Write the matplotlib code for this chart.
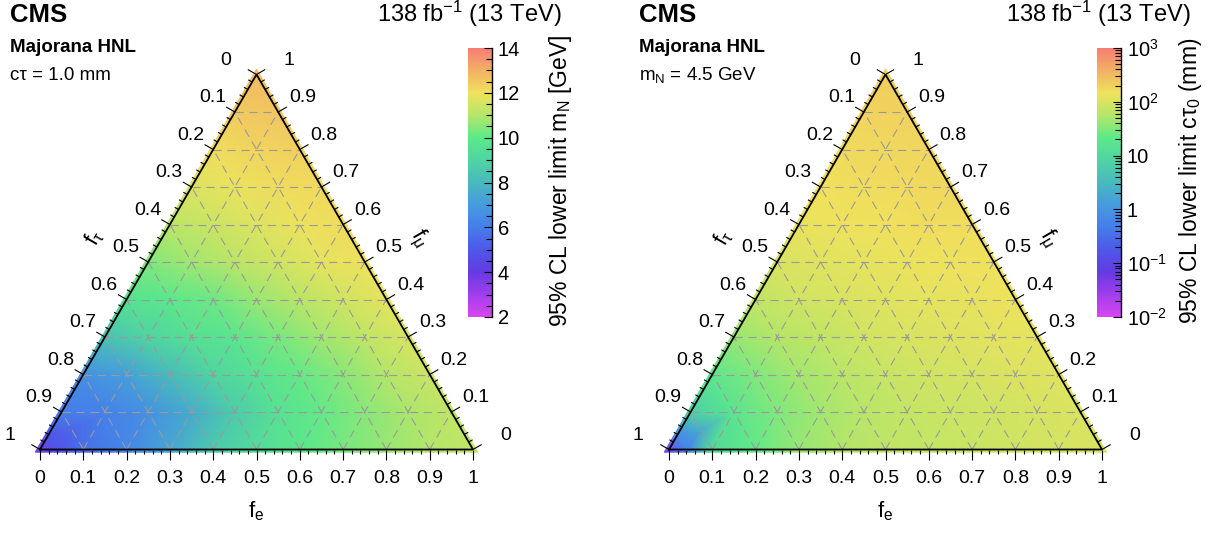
import numpy as np
import matplotlib
matplotlib.use('Agg')
import matplotlib.pyplot as plt
import matplotlib.tri as mtri
from matplotlib.colors import LinearSegmentedColormap, Normalize, LogNorm
from matplotlib.collections import LineCollection
from matplotlib.ticker import MultipleLocator, LogLocator, NullFormatter
from matplotlib.transforms import Affine2D
import matplotlib.cm as cm

plt.rcParams['font.family'] = ['Liberation Sans', 'DejaVu Sans']
plt.rcParams['mathtext.fontset'] = 'custom'
plt.rcParams['mathtext.rm'] = 'Liberation Sans'
plt.rcParams['mathtext.it'] = 'Liberation Sans:italic'
plt.rcParams['mathtext.bf'] = 'Liberation Sans:bold'

# ---------------- data ----------------
fe_grid = [0.0, 0.1, 0.2, 0.3, 0.4, 0.5, 0.6, 0.7, 0.8, 0.9, 1.0]
fmu_grid = [0.0, 0.1, 0.2, 0.3, 0.4, 0.5, 0.6, 0.7, 0.8, 0.9, 1.0]

# left: 95% CL lower limit on m_N [GeV], rows of constant f_mu, columns f_e
mN_rows = [
    [3.6, 5.6, 6.3, 7.3, 8.7, 9.4, 9.9, 10.3, 10.7, 11.0, 11.2],
    [6.0, 6.1, 6.6, 7.5, 8.7, 9.6, 10.1, 10.5, 10.9, 11.2],
    [6.6, 7.1, 8.0, 9.0, 9.6, 10.1, 10.5, 11.0, 11.4],
    [8.3, 9.0, 9.5, 9.8, 10.3, 10.8, 11.2, 11.6],
    [9.6, 9.9, 10.2, 10.7, 11.1, 11.5, 11.8],
    [10.4, 10.8, 11.1, 11.5, 11.8, 12.0],
    [11.1, 11.4, 11.7, 11.9, 12.1],
    [11.7, 11.9, 12.1, 12.2],
    [12.1, 12.3, 12.4],
    [12.5, 12.6],
    [12.8],
]
mN_corner_fe = [0.05, 0.0, 0.05]
mN_corner_fmu = [0.0, 0.05, 0.05]
mN_corner_val = [4.8, 5.0, 5.3]

# right: 95% CL lower limit on c tau_0 [mm]
ctau_rows = [
    [0.04, 10, 22, 40, 55, 65, 72, 80, 88, 95, 100],
    [6, 16, 30, 45, 60, 72, 80, 88, 95, 105],
    [18, 30, 45, 60, 75, 85, 95, 105, 115],
    [40, 55, 70, 85, 100, 110, 120, 125],
    [70, 85, 100, 115, 125, 130, 140],
    [100, 115, 125, 135, 140, 150],
    [130, 140, 150, 160, 165],
    [150, 160, 170, 175],
    [170, 180, 185],
    [190, 200],
    [220],
]
ctau_corner_fe = [0.05, 0.0, 0.05]
ctau_corner_fmu = [0.0, 0.05, 0.05]
ctau_corner_val = [0.5, 0.8, 1.5]

tick_values = [0.0, 0.1, 0.2, 0.3, 0.4, 0.5, 0.6, 0.7, 0.8, 0.9, 1.0]
tick_labels = ['0', '0.1', '0.2', '0.3', '0.4', '0.5', '0.6', '0.7', '0.8', '0.9', '1']
minor_step = 0.02

cb_left_ticks = [2, 4, 6, 8, 10, 12, 14]
cb_right_ticks = [1e-2, 1e-1, 1, 10, 1e2, 1e3]
cb_right_labels = ['$10^{-2}$', '$10^{-1}$', '1', '10', '$10^{2}$', '$10^{3}$']

# ---------------- style ----------------
W, H = 1212, 533
S = 433.0           # triangle side in pixels
X0, Y0 = 40.0, 449.5  # pixel position of the f_e = 0 corner (from top-left)
PANEL_OFF = 629
R3 = np.sqrt(3) / 2

cmap = LinearSegmentedColormap.from_list('hnl', [
    (0.0, (215/255, 70/255, 240/255)),
    (0.0833, (160/255, 62/255, 236/255)),
    (0.1667, (100/255, 58/255, 226/255)),
    (0.25, (78/255, 88/255, 232/255)),
    (0.3333, (70/255, 125/255, 235/255)),
    (0.4167, (70/255, 155/255, 222/255)),
    (0.5, (72/255, 185/255, 190/255)),
    (0.5833, (80/255, 212/255, 162/255)),
    (0.6667, (92/255, 233/255, 138/255)),
    (0.75, (180/255, 230/255, 105/255)),
    (0.8333, (240/255, 226/255, 92/255)),
    (0.9167, (242/255, 178/255, 100/255)),
    (1.0, (245/255, 125/255, 115/255)),
])

fig = plt.figure(figsize=(W / 100, H / 100), dpi=100)


def px(x, y):
    return x / W, 1 - y / H


def tern(fe, fmu):
    fe = np.asarray(fe, float)
    fmu = np.asarray(fmu, float)
    return fe + fmu / 2, fmu * R3


def flatten(rows, cfe, cfmu, cval):
    fe, fmu, v = [], [], []
    for i, row in enumerate(rows):
        for j, val in enumerate(row):
            fe.append(fe_grid[j]); fmu.append(fmu_grid[i]); v.append(val)
    return np.array(fe + cfe), np.array(fmu + cfmu), np.array(v + cval, float)


def draw_panel(off, rows, cfe, cfmu, cval, norm):
    pw = min(600, W - off)
    ax = fig.add_axes([off / W, 0, pw / W, 1])
    ax.set_xlim(-X0 / S, (pw - X0) / S)
    ax.set_ylim((Y0 - H) / S, Y0 / S)
    ax.axis('off')

    fe, fmu, v = flatten(rows, cfe, cfmu, cval)
    x, y = tern(fe, fmu)
    tri = mtri.Triangulation(x, y)
    cx, cy = 0.5, R3 / 3
    sc = 1.022
    tr = Affine2D().translate(-cx, -cy).scale(sc).translate(cx, cy) + ax.transData
    tpc = ax.tripcolor(tri, v, shading='gouraud', cmap=cmap, norm=norm, zorder=1)
    tpc.set_transform(tr)

    # dashed grid
    segs = []
    for k in tick_values[1:-1]:
        segs.append(np.column_stack(tern([0, 1 - k], [k, k])))          # const f_mu
        segs.append(np.column_stack(tern([k, k], [0, 1 - k])))          # const f_e
        segs.append(np.column_stack(tern([1 - k, 0], [0, 1 - k])))      # const f_tau
    ax.add_collection(LineCollection(segs, colors='#9a9a9a', linewidths=0.8,
                                     linestyles=[(0, (7.5, 5.0))], zorder=2))

    # triangle frame
    tx, ty = tern([0, 1, 0, 0], [0, 0, 1, 0])
    ax.plot(tx, ty, color='black', lw=1.3, zorder=4, solid_joinstyle='miter')

    # ticks
    tsegs = []
    n_minor = int(round(1 / minor_step))
    d_bot = np.array([0, -1.0])
    d_left = np.array([-R3, 0.5])
    d_right = np.array([R3, 0.5])
    for i in range(n_minor + 1):
        t = i * minor_step
        major = (i % 5 == 0)
        L = (10.0 if major else 4.5) / S
        p = np.array(tern(t, 0))
        tsegs.append([p, p + d_bot * L])
        p = np.array(tern(0, 1 - t))
        tsegs.append([p, p + d_left * L])
        p = np.array(tern(1 - t, t))
        tsegs.append([p, p + d_right * L])
    ax.add_collection(LineCollection(tsegs, colors='black', linewidths=0.8, zorder=4))

    fs = 14
    for t, lab in zip(tick_values, tick_labels):
        ax.annotate(lab, xy=tern(t, 0), xytext=(0, -33.8), textcoords='offset pixels',
                    ha='center', va='baseline', fontsize=fs)
        ax.annotate(lab, xy=tern(0, 1 - t), xytext=(-36, 10), textcoords='offset pixels',
                    ha='left', va='baseline', fontsize=fs)
        ax.annotate(lab, xy=tern(1 - t, t), xytext=(38, 10), textcoords='offset pixels',
                    ha='right', va='baseline', fontsize=fs)

    # axis titles
    ax.annotate('f$_{\\mathrm{e}}$', xy=tern(0.5, 0), xytext=(0, -68), textcoords='offset pixels',
                ha='center', va='baseline', fontsize=16)
    ax.annotate('f$_{\\mathrm{\u03c4}}$', xy=tern(0, 0.5), xytext=(-54, 24), textcoords='offset pixels',
                ha='center', va='center', fontsize=16, rotation=60)
    ax.annotate('f$_{\\mathrm{\u03bc}}$', xy=tern(0.5, 0.5), xytext=(54, 24), textcoords='offset pixels',
                ha='center', va='center', fontsize=16, rotation=-60)
    return ax, tpc


def draw_colorbar(off, mappable, log):
    cax = fig.add_axes([(468 + off) / W, 1 - 317 / H, 24 / W, 269 / H])
    cb = fig.colorbar(mappable, cax=cax)
    cb.outline.set_visible(False)
    cax.plot([1, 1], [0, 1], transform=cax.transAxes, color='black', lw=1.0, clip_on=False)
    if log:
        cb.set_ticks(cb_right_ticks)
        cb.set_ticklabels(cb_right_labels)
        cax.yaxis.set_minor_locator(LogLocator(base=10, subs=np.arange(2, 10)))
        cax.yaxis.set_minor_formatter(NullFormatter())
    else:
        cb.set_ticks(cb_left_ticks)
        cb.set_ticklabels([str(t) for t in cb_left_ticks])
        cax.yaxis.set_minor_locator(MultipleLocator(0.5))
    cax.tick_params(which='both', direction='in', right=True, left=False, labelsize=14.5,
                    width=0.8, color='black', pad=4)
    cax.tick_params(which='major', length=6)
    cax.tick_params(which='minor', length=4)
    return cb


# ---------------- panels ----------------
norm_l = Normalize(vmin=2, vmax=14)
norm_r = LogNorm(vmin=1e-2, vmax=1e3)

ax_l, tpc_l = draw_panel(0, mN_rows, mN_corner_fe, mN_corner_fmu, mN_corner_val, norm_l)
ax_r, tpc_r = draw_panel(PANEL_OFF, ctau_rows, ctau_corner_fe, ctau_corner_fmu, ctau_corner_val, norm_r)

draw_colorbar(0, cm.ScalarMappable(norm=norm_l, cmap=cmap), False)
draw_colorbar(PANEL_OFF, cm.ScalarMappable(norm=norm_r, cmap=cmap), True)

for off, line2, cblab in [
    (0, 'c\u03c4 = 1.0 mm', '95% CL lower limit m$_{\\mathrm{N}}$ [GeV]'),
    (PANEL_OFF, 'm$_{\\mathrm{N}}$ = 4.5 GeV', '95% CL lower limit c\u03c4$_{\\mathrm{0}}$ (mm)'),
]:
    fig.text(*px(10 + off, 22), 'CMS', fontsize=18.5, fontweight='bold', ha='left', va='baseline')
    fig.text(*px(562 + off, 22), '138 fb$^{-1}$ (13 TeV)', fontsize=17, ha='right', va='baseline')
    fig.text(*px(10 + off, 52.5), 'Majorana HNL', fontsize=13.5, fontweight='bold', ha='left', va='baseline')
    fig.text(*px(10 + off, 80), line2, fontsize=13.5, ha='left', va='baseline')
    fig.text(*px(561 + off, 181), cblab, fontsize=16.5, rotation=90, ha='center', va='center')

fig.savefig('out.png', dpi=100)
